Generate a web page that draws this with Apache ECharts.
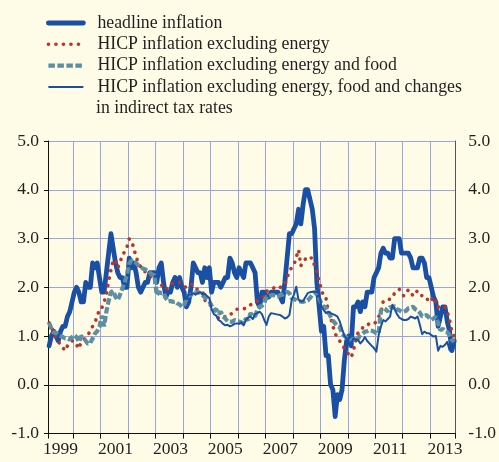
<!DOCTYPE html>
<html><head><meta charset="utf-8">
<script src="https://cdn.jsdelivr.net/npm/echarts@6/dist/echarts.min.js"></script>
<style>html,body{margin:0;padding:0;background:#fefce6;}#c{width:499px;height:462px;}</style>
</head><body><div id="c"></div>
<script>
// Monthly categories Feb 1999 – Nov 2013
const categories = [];
for (let y = 1999; y <= 2013; y++) {
  for (let m = 1; m <= 12; m++) {
    if (y === 1999 && m === 1) continue;
    if (y === 2013 && m === 12) continue;
    categories.push(y + '-' + (m < 10 ? '0' + m : '' + m));
  }
}
const labelYears = ['1999','2001','2003','2005','2007','2009','2011','2013'];
const yTicks = [-1, 0, 1, 2, 3, 4, 5];

const seriesNames = [
  'headline inflation',
  'HICP inflation excluding energy',
  'HICP inflation excluding energy and food',
  'HICP inflation excluding energy, food and changes in indirect tax rates'
];

const headline = [
  0.8,1.0,1.1,1.0,0.9,1.1,1.2,1.2,1.4,1.5,1.7,
  1.9,2.0,1.9,1.7,1.7,2.1,2.0,2.0,2.5,2.4,2.5,2.2,
  1.9,1.9,2.3,2.7,3.1,2.8,2.5,2.3,2.2,2.2,2.0,2.0,
  2.6,2.4,2.5,2.3,2.0,1.9,2.0,2.1,2.1,2.3,2.3,2.3,
  2.1,2.4,2.5,2.1,1.8,1.9,1.9,2.1,2.2,2.0,2.2,2.0,
  1.9,1.6,1.7,2.0,2.5,2.4,2.3,2.3,2.1,2.4,2.2,2.4,
  1.9,2.1,2.1,2.1,2.0,2.1,2.2,2.2,2.6,2.5,2.3,2.2,
  2.4,2.3,2.2,2.5,2.5,2.5,2.4,2.3,1.7,1.6,1.9,1.9,
  1.8,1.8,1.9,1.9,1.9,1.9,1.8,1.7,2.1,2.6,3.1,3.1,
  3.2,3.3,3.6,3.3,3.7,4.0,4.0,3.8,3.6,3.2,2.1,1.6,
  1.1,1.2,0.6,0.6,0.0,-0.1,-0.65,-0.2,-0.3,-0.1,0.5,0.9,
  1.0,0.8,1.6,1.6,1.7,1.5,1.7,1.6,1.9,1.9,1.9,2.2,
  2.3,2.4,2.7,2.8,2.7,2.7,2.6,2.6,3.0,3.0,3.0,2.7,
  2.7,2.7,2.7,2.6,2.4,2.4,2.4,2.6,2.6,2.5,2.2,2.2,
  2.0,1.8,1.7,1.2,1.4,1.6,1.6,1.3,1.1,0.7,0.9
];

const exEnergy = [
  1.27,1.2,1.05,0.95,0.9,0.8,0.76,0.7,0.8,0.86,0.9,
  0.9,0.82,0.74,0.88,0.92,0.98,1.02,1.12,1.2,1.28,1.4,1.55,
  1.57,1.7,1.85,2.12,2.35,2.56,2.55,2.4,2.5,2.68,2.72,2.82,
  2.99,2.96,2.8,2.62,2.5,2.42,2.34,2.32,2.28,2.24,2.2,2.15,
  1.95,2.0,2.05,2.0,1.95,2.0,2.05,2.08,2.1,2.1,2.1,2.05,
  2.01,2.0,2.05,2.06,2.05,1.98,1.95,1.93,1.91,1.74,1.7,1.65,
  1.6,1.57,1.5,1.36,1.38,1.4,1.4,1.4,1.42,1.48,1.52,1.55,
  1.55,1.55,1.56,1.57,1.6,1.64,1.67,1.69,1.72,1.78,1.79,1.81,
  1.92,1.93,1.95,1.98,2.02,2.0,2.0,2.03,2.05,2.19,2.34,2.4,
  2.46,2.62,2.77,2.44,2.53,2.58,2.63,2.6,2.6,2.44,2.3,2.12,
  1.96,1.8,1.78,1.5,1.38,1.21,1.04,0.99,0.9,0.83,0.75,0.68,
  0.62,0.56,0.71,0.9,1.07,1.1,1.17,1.17,1.22,1.26,1.25,1.25,
  1.3,1.4,1.47,1.71,1.73,1.76,1.75,1.8,1.88,1.9,1.96,1.9,
  1.82,1.88,1.95,1.92,1.82,1.88,1.93,1.88,1.82,1.78,1.74,1.78,
  1.81,1.67,1.72,1.59,1.62,1.6,1.6,1.5,1.33,1.09,1.0
];

const exEnergyFood = [
  1.27,1.15,1.07,1.07,1.02,1.0,0.98,0.95,0.95,0.93,0.98,
  1.02,0.98,0.88,1.0,0.97,0.9,0.84,0.86,0.95,1.05,1.1,1.19,
  1.42,1.2,1.5,1.72,1.9,1.93,1.8,1.74,1.85,1.98,2.1,2.26,
  2.48,2.56,2.52,2.5,2.45,2.42,2.38,2.37,2.33,2.3,2.26,2.25,
  1.84,1.9,1.88,1.88,1.78,1.71,1.72,1.7,1.71,1.67,1.65,1.6,
  1.64,1.75,1.84,1.84,1.89,1.89,1.9,1.88,1.84,1.8,1.75,1.71,
  1.62,1.53,1.55,1.45,1.5,1.4,1.36,1.3,1.3,1.29,1.33,1.31,
  1.3,1.28,1.26,1.36,1.33,1.47,1.42,1.4,1.55,1.6,1.62,1.67,
  1.81,1.82,1.84,1.84,1.82,1.81,1.84,1.85,1.88,1.91,1.88,1.78,
  1.76,1.74,1.71,1.71,1.7,1.72,1.73,1.78,1.84,1.91,1.85,1.77,
  1.67,1.6,1.58,1.5,1.4,1.32,1.26,1.2,1.18,1.06,1.0,0.97,
  0.95,0.9,0.95,0.92,0.95,1.02,1.05,1.09,1.1,1.12,1.11,1.09,
  1.06,1.06,1.53,1.57,1.55,1.5,1.6,1.58,1.62,1.55,1.53,1.5,
  1.5,1.52,1.57,1.58,1.6,1.55,1.53,1.48,1.4,1.42,1.43,1.38,
  1.33,1.36,1.4,1.26,1.12,1.15,1.1,1.08,1.02,0.92,0.88
];

const exEnergyFoodTax = [
  null,null,null,null,null,null,null,null,null,null,null,
  null,null,null,null,null,null,null,null,null,null,null,null,
  null,null,null,null,null,null,null,null,null,null,null,null,
  null,null,null,null,null,null,null,null,null,null,null,null,
  null,null,null,null,null,null,null,null,null,null,null,null,
  1.75,1.78,1.85,1.85,1.88,1.85,1.88,1.9,1.85,1.87,1.82,1.78,
  1.55,1.45,1.42,1.33,1.3,1.25,1.22,1.23,1.2,1.22,1.25,1.26,
  1.25,1.28,1.22,1.33,1.38,1.4,1.35,1.45,1.47,1.5,1.45,1.33,
  1.23,1.4,1.47,1.46,1.45,1.44,1.43,1.4,1.36,1.38,1.43,1.74,
  1.85,2.01,1.74,1.71,1.72,1.8,1.88,1.9,1.91,1.91,1.9,1.88,
  1.6,1.53,1.47,1.5,1.47,1.45,1.43,1.4,1.3,1.15,1.0,0.95,
  0.88,0.85,0.95,0.93,0.92,0.85,0.9,0.98,0.9,0.85,0.8,0.75,
  0.68,1.02,1.2,1.33,1.3,1.35,1.4,1.64,1.55,1.45,1.38,1.35,
  1.33,1.33,1.35,1.4,1.38,1.36,1.4,1.23,1.04,1.09,1.06,1.06,
  1.02,0.99,1.0,0.7,0.8,0.78,0.82,0.88,0.71,0.8,0.81
];

const FONT = '"Liberation Serif", "DejaVu Serif", serif';
const TXT = '#231f20';
const GRID = '#98a4e4';
const BLUE = '#1a4fa6';
const RED = '#b8352a';
const TEAL = '#5b8fa1';

const chart = echarts.init(document.getElementById('c'), null, {renderer: 'canvas'});

const yAxisBase = {
  type: 'value', min: yTicks[0], max: yTicks[yTicks.length - 1], interval: 1,
  axisLabel: {fontFamily: FONT, fontSize: 17.5, color: TXT, formatter: v => v.toFixed(1)}
};

chart.setOption({
  backgroundColor: '#fefce6',
  animation: false,
  grid: {left: 48, top: 141, width: 413, height: 292.6, containLabel: false},
  legend: {
    orient: 'vertical', left: 46, top: 12.5, padding: 0,
    itemWidth: 35, itemHeight: 14, itemGap: 0.3,
    selectedMode: false,
    data: seriesNames,
    formatter: n => n === seriesNames[3] ? 'HICP inflation excluding energy, food and changes' : n,
    textStyle: {fontFamily: FONT, fontSize: 17.8, color: TXT, lineHeight: 21, padding: [0, 0, 0, 9]},
    itemStyle: {opacity: 0, borderWidth: 0},
    lineStyle: {width: 'inherit', type: 'inherit'}
  },
  graphic: [{
    type: 'text', x: 96, y: 108,
    style: {text: 'in indirect tax rates', font: '17.8px ' + FONT, fill: TXT, verticalAlign: 'middle', align: 'left'}
  }],
  xAxis: [{
    type: 'category', data: categories, boundaryGap: true, position: 'bottom',
    axisLine: {onZero: false, lineStyle: {color: '#111', width: 1}},
    axisTick: {show: true, length: 5, lineStyle: {color: '#111'},
      interval: (i, v) => i === 0 || v.slice(5) === '01'},
    splitLine: {show: true, lineStyle: {color: GRID, width: 1},
      interval: (i, v) => v.slice(5) === '01'},
    axisLabel: {fontFamily: FONT, fontSize: 17.5, color: TXT, margin: 7,
      interval: (i, v) => v.slice(5) === '07' && labelYears.indexOf(v.slice(0, 4)) >= 0,
      formatter: v => v.slice(0, 4)}
  }, {
    type: 'category', data: categories, boundaryGap: true,
    axisLine: {show: true, onZero: true, onZeroAxisIndex: 0, lineStyle: {color: '#222', width: 1}},
    axisTick: {show: false}, axisLabel: {show: false}, splitLine: {show: false}
  }],
  yAxis: [Object.assign({}, yAxisBase, {
    position: 'left',
    axisLine: {show: true, lineStyle: {color: '#111'}},
    axisTick: {show: true, length: 4, lineStyle: {color: '#111'}},
    splitLine: {show: true, lineStyle: {color: GRID, width: 1}},
    axisLabel: Object.assign({}, yAxisBase.axisLabel, {margin: 9})
  }), Object.assign({}, yAxisBase, {
    position: 'right',
    axisLine: {show: true, lineStyle: {color: '#555'}},
    axisTick: {show: false},
    splitLine: {show: false},
    axisLabel: Object.assign({}, yAxisBase.axisLabel, {margin: 13})
  })],
  series: [{
    name: seriesNames[0], type: 'line', data: headline, symbol: 'none',
    lineStyle: {color: BLUE, width: 4.8, join: 'round', cap: 'round'}, itemStyle: {color: BLUE}
  }, {
    name: seriesNames[1], type: 'line', data: exEnergy, symbol: 'none',
    lineStyle: {color: RED, width: 3.6, type: [0.1, 7.4], cap: 'round', join: 'round'}, itemStyle: {color: RED}
  }, {
    name: seriesNames[2], type: 'line', data: exEnergyFood, symbol: 'none',
    lineStyle: {color: TEAL, width: 4.2, type: [6.5, 2.5], cap: 'butt'}, itemStyle: {color: TEAL}
  }, {
    name: seriesNames[3], type: 'line', data: exEnergyFoodTax, symbol: 'none',
    lineStyle: {color: BLUE, width: 2, join: 'round'}, itemStyle: {color: BLUE}
  }]
});
</script>
</body></html>
